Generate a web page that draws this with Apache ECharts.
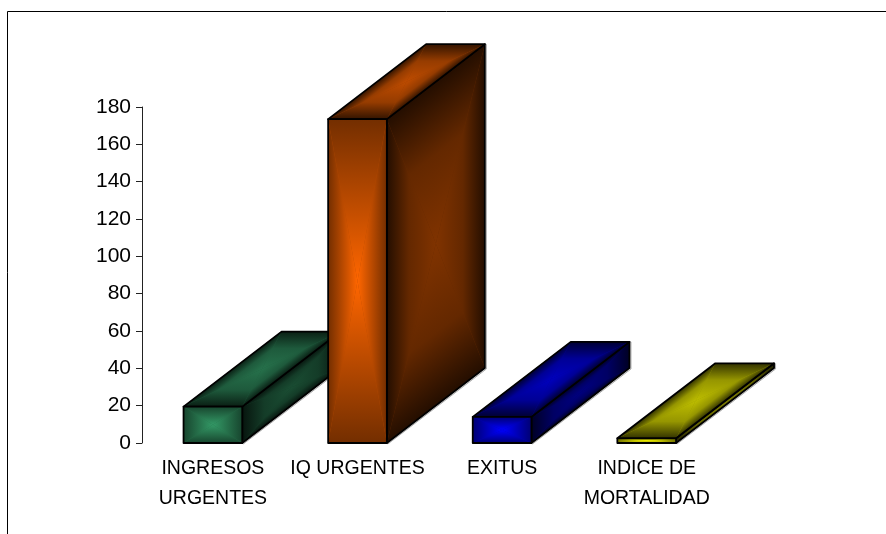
<!DOCTYPE html>
<html>
<head>
<meta charset="utf-8">
<style>html,body{margin:0;padding:0;background:#fff}#c{width:886px;height:534px}</style>
<script src="https://cdn.jsdelivr.net/npm/echarts@6/dist/echarts.min.js"></script>
</head>
<body>
<div id="c"></div>
<script>
var categories = ['INGRESOS\nURGENTES', 'IQ URGENTES', 'EXITUS', 'INDICE DE\nMORTALIDAD'];
var values = [19.5, 173.5, 14, 2.5];
var barColors = [[51, 153, 102], [255, 102, 0], [0, 0, 255], [255, 255, 0]];
var yTicks = { min: 0, max: 180, interval: 20 };

var DEPTH_X = 98, DEPTH_Y = 75, BAR_RATIO = 0.406;

function rgb(c, k) {
  return 'rgb(' + Math.round(c[0] * k) + ',' + Math.round(c[1] * k) + ',' + Math.round(c[2] * k) + ')';
}

// One face of the block: a path-style gradient, edge colour to centre colour.
function face(pts, base, kCentre, kEdge, ease) {
  var cx = 0, cy = 0, out = [], i;
  for (i = 0; i < pts.length; i++) { cx += pts[i][0] / pts.length; cy += pts[i][1] / pts.length; }
  var kMid = kEdge + (kCentre - kEdge) * ease;
  out.push({ type: 'polygon', shape: { points: pts }, style: { fill: rgb(base, kMid), stroke: null } });
  for (i = 0; i < pts.length; i++) {
    var a = pts[i], b = pts[(i + 1) % pts.length];
    var ex = b[0] - a[0], ey = b[1] - a[1], len2 = ex * ex + ey * ey || 1;
    var t = ((cx - a[0]) * ex + (cy - a[1]) * ey) / len2;
    var fx = a[0] + ex * t, fy = a[1] + ey * t;
    out.push({
      type: 'polygon',
      shape: { points: [a, b, [cx, cy]] },
      style: {
        fill: {
          type: 'linear', global: true, x: fx, y: fy, x2: cx, y2: cy,
          colorStops: [
            { offset: 0, color: rgb(base, kEdge) },
            { offset: 0.45, color: rgb(base, kMid) },
            { offset: 1, color: rgb(base, kCentre) }
          ]
        },
        stroke: null
      }
    });
  }
  out.push({ type: 'polygon', shape: { points: pts }, style: { fill: 'none', stroke: '#000', lineWidth: 1.8, lineJoin: 'round' } });
  return out;
}

function renderItem(params, api) {
  var i = api.value(0), v = api.value(1);
  var top = api.coord([i, v]), bot = api.coord([i, 0]);
  var w = api.size([1, 0])[0] * BAR_RATIO;
  var x0 = top[0] - w / 2, x1 = top[0] + w / 2, yt = top[1], yb = bot[1];
  var c = barColors[i];
  var front = [[x0, yt], [x1, yt], [x1, yb], [x0, yb]];
  var side = [[x1, yt], [x1 + DEPTH_X, yt - DEPTH_Y], [x1 + DEPTH_X, yb - DEPTH_Y], [x1, yb]];
  var roof = [[x0, yt], [x0 + DEPTH_X, yt - DEPTH_Y], [x1 + DEPTH_X, yt - DEPTH_Y], [x1, yt]];
  var halo = {
    type: 'polyline',
    shape: { points: [[x1 + DEPTH_X + 1.5, yt - DEPTH_Y], [x1 + DEPTH_X + 1.5, yb - DEPTH_Y + 1], [x1 + 1, yb + 1]] },
    style: { fill: 'none', stroke: '#aaa', lineWidth: 1 }
  };
  return {
    type: 'group',
    children: [halo].concat(face(side, c, 0.5, 0.14, 0.7), face(roof, c, 0.74, 0.2, 0.72), face(front, c, 1, 0.45, 0.45))
  };
}

var chart = echarts.init(document.getElementById('c'), null, { renderer: 'canvas' });
chart.setOption({
  animation: false,
  backgroundColor: '#fff',
  grid: { left: 140.6, top: 107, width: 578.4, height: 336, containLabel: false },
  xAxis: {
    type: 'category', data: categories, boundaryGap: true,
    axisLine: { show: false }, axisTick: { show: false },
    axisLabel: { color: '#000', fontFamily: 'Liberation Sans', fontSize: 19.5, lineHeight: 30, margin: 11, interval: 0 }
  },
  yAxis: {
    type: 'value', min: yTicks.min, max: yTicks.max, interval: yTicks.interval, offset: -1.4,
    splitLine: { show: false },
    axisLine: { show: true, lineStyle: { color: '#222', width: 1 } },
    axisTick: { show: true, length: 6, lineStyle: { color: '#222', width: 1 } },
    axisLabel: { color: '#000', fontFamily: 'Liberation Sans', fontSize: 21, margin: 11 }
  },
  series: [{
    type: 'custom', clip: false, renderItem: renderItem,
    encode: { x: 0, y: 1 },
    data: values.map(function (v, i) { return [i, v]; })
  }],
  graphic: [
    { type: 'line', shape: { x1: 7.5, y1: 11.5, x2: 886, y2: 11.5 }, style: { stroke: '#000', lineWidth: 1 } },
    { type: 'line', shape: { x1: 7.5, y1: 11.5, x2: 7.5, y2: 534 }, style: { stroke: '#000', lineWidth: 1 } }
  ]
});
</script>
</body>
</html>
